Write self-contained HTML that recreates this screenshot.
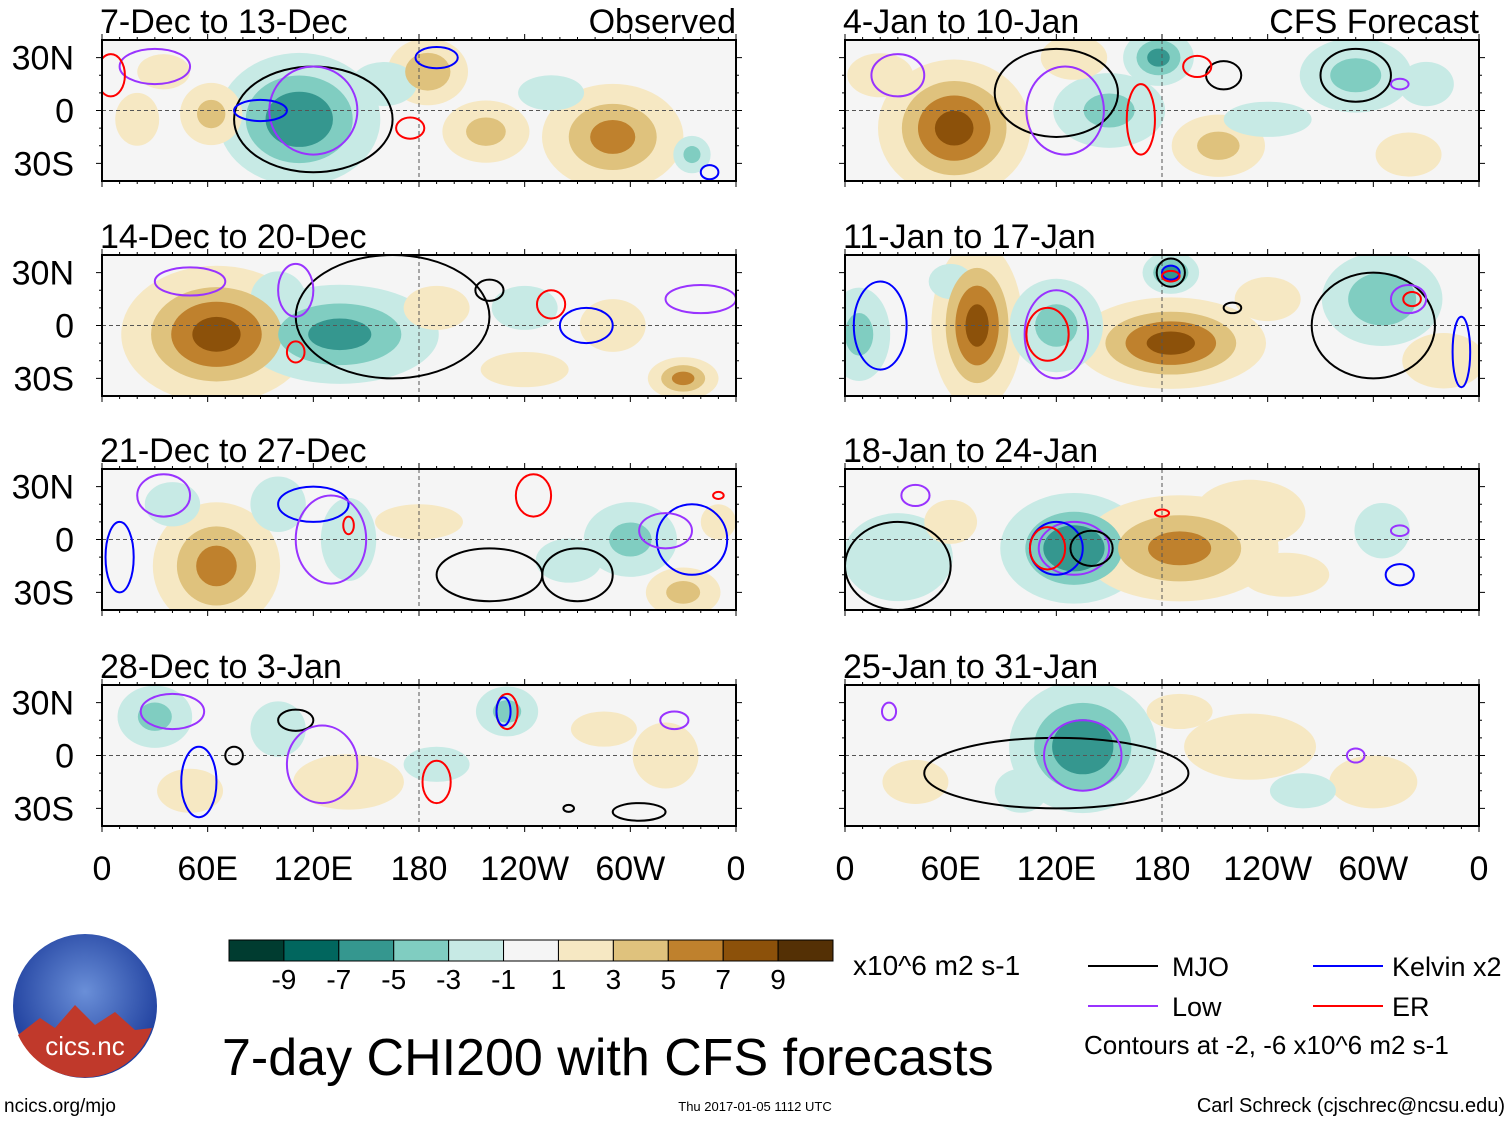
<!DOCTYPE html>
<html><head><meta charset="utf-8"><style>
body{margin:0;background:#fff;}
svg{display:block;font-family:"Liberation Sans",sans-serif;}
</style></head><body>
<svg id="c" width="1510" height="1121" xmlns="http://www.w3.org/2000/svg"></svg>
<script>
const panelTitles=["7-Dec to 13-Dec","14-Dec to 20-Dec","21-Dec to 27-Dec","28-Dec to 3-Jan","4-Jan to 10-Jan","11-Jan to 17-Jan","18-Jan to 24-Jan","25-Jan to 31-Jan"];
// blobs: [lon, lat, lonScale, latScale, amplitude]
const panelBlobs=[
 [[112,-5,22,18,-7],[62,-2,10,10,4],[185,22,12,10,5],[218,-12,14,10,4],[290,-15,20,15,6],[35,22,12,8,2],[160,15,15,10,-2],[255,10,15,8,-2],[335,-25,6,6,-4],[20,-5,10,12,2]],
 [[65,-5,25,18,8],[135,-5,28,14,-6],[330,-30,10,6,6],[190,10,15,10,2],[240,-25,20,8,2],[240,10,15,10,-2],[100,15,10,10,-3],[290,0,15,12,2]],
 [[65,-15,18,18,6],[100,20,10,10,-3],[140,0,10,15,-3],[300,0,15,12,-4],[330,-30,12,8,4],[265,-12,15,10,-2],[40,20,10,8,-3],[180,10,20,8,2],[350,10,8,8,2]],
 [[30,22,12,10,-4],[100,15,10,10,-3],[230,25,10,8,-4],[50,-20,15,10,2],[140,-15,20,10,3],[320,0,15,15,2],[190,-5,15,8,-2],[285,15,15,8,2]],
 [[62,-10,20,18,8],[178,30,10,8,-6],[150,0,18,12,-4],[290,20,18,12,-4],[212,-20,15,10,4],[130,30,12,8,3],[330,15,10,8,-3],[320,-25,15,10,2],[240,-5,20,8,-2],[20,20,15,10,2]],
 [[75,0,12,22,8],[185,-10,25,12,8],[120,0,15,15,-4],[305,15,18,14,-5],[185,30,8,6,-6],[8,-5,10,15,-4],[340,-20,15,10,3],[240,15,15,10,2],[60,25,10,8,-2]],
 [[130,-5,20,15,-7],[190,-5,28,15,6],[230,15,20,12,3],[30,-10,25,20,-2],[305,5,10,10,-3],[60,10,12,10,2],[250,-20,20,10,2]],
 [[135,5,20,18,-7],[100,-20,12,10,-2],[230,5,30,15,2],[300,-15,20,12,2],[260,-20,15,8,-2],[40,-15,15,10,2],[190,25,15,8,2]]
];
// contours: [lon, lat, lonRadius, latRadius, type]
const panelContours=[
 [[120,-5,45,30,"mjo"],[120,0,25,25,"low"],[90,0,15,6,"kelvin"],[190,30,12,6,"kelvin"],[175,-10,8,6,"er"],[30,25,20,10,"low"],[5,20,8,12,"er"],[345,-35,5,4,"kelvin"]],
 [[165,5,55,35,"mjo"],[110,20,10,15,"low"],[110,-15,5,6,"er"],[220,20,8,6,"mjo"],[255,12,8,8,"er"],[275,0,15,10,"kelvin"],[340,15,20,8,"low"],[50,25,20,8,"low"]],
 [[35,25,15,12,"low"],[120,20,20,10,"kelvin"],[130,0,20,25,"low"],[140,8,3,5,"er"],[245,25,10,12,"er"],[220,-20,30,15,"mjo"],[270,-20,20,15,"mjo"],[335,0,20,20,"kelvin"],[320,5,15,10,"low"],[350,25,3,2,"er"],[10,-10,8,20,"kelvin"]],
 [[40,25,18,10,"low"],[110,20,10,6,"mjo"],[75,0,5,5,"mjo"],[125,-5,20,22,"low"],[230,25,6,10,"er"],[228,25,4,8,"kelvin"],[190,-15,8,12,"er"],[55,-15,10,20,"kelvin"],[265,-30,3,2,"mjo"],[305,-32,15,5,"mjo"],[325,20,8,5,"low"]],
 [[120,10,35,25,"mjo"],[125,0,22,25,"low"],[168,-5,8,20,"er"],[215,20,10,8,"mjo"],[200,25,8,6,"er"],[290,20,20,15,"mjo"],[315,15,5,3,"low"],[30,20,15,12,"low"]],
 [[120,-5,18,25,"low"],[115,-5,12,15,"er"],[185,30,8,8,"mjo"],[185,30,5,4,"kelvin"],[185,28,5,3,"er"],[220,10,5,3,"mjo"],[300,0,35,30,"mjo"],[320,15,10,8,"low"],[322,15,5,4,"er"],[20,0,15,25,"kelvin"],[350,-15,5,20,"kelvin"]],
 [[130,-5,20,15,"low"],[120,-5,15,15,"kelvin"],[115,-5,10,12,"er"],[140,-5,12,10,"mjo"],[30,-15,30,25,"mjo"],[40,25,8,6,"low"],[315,5,5,3,"low"],[315,-20,8,6,"kelvin"],[180,15,4,2,"er"]],
 [[120,-10,75,20,"mjo"],[135,0,22,20,"low"],[25,25,4,5,"low"],[290,0,5,4,"low"]]
];
const colorLevels=["#003c30","#01665e","#35978f","#80cdc1","#c7eae5","#f5f5f5","#f6e8c3","#dfc27d","#bf812d","#8c510a","#543005"];
const cbLabels=["-9","-7","-5","-3","-1","1","3","5","7","9"];
const lonLabels=["0","60E","120E","180","120W","60W","0"];
const latLabels=["30N","0","30S"];
const lineColors={mjo:"#000",kelvin:"#0000ff",low:"#9933ff",er:"#ff0000"};

const NS="http://www.w3.org/2000/svg";
const svg=document.getElementById('c');
function mk(tag,attrs,parent){const e=document.createElementNS(NS,tag);for(const k in attrs)e.setAttribute(k,attrs[k]);(parent||svg).appendChild(e);return e;}
const PW=634,PH=141,SPREAD=1.5;
const colX=[102,845],rowY=[40,255,469,685];
function xScale(x0,lon){return x0+lon/360*PW;}
function yScale(y0,lat){return y0+PH/2-lat/80*PH;}
const thr=[1,3,5,7,9];
function fillFor(amp,i){return amp>0?colorLevels[6+i]:colorLevels[4-i];}

for(let p=0;p<8;p++){
 const x0=colX[Math.floor(p/4)],y0=rowY[p%4];
 const g=mk('g',{});
 
 
 const cp=mk('clipPath',{id:'cp'+p},g);
 mk('rect',{x:x0,y:y0,width:PW,height:PH},cp);
 const bg=mk('rect',{x:x0,y:y0,width:PW,height:PH,fill:"#f5f5f5"},g);
 
 
 const inner=mk('g',{'clip-path':'url(#cp'+p+')'},g);
 for(let i=0;i<5;i++){
  for(const b of panelBlobs[p]){
   const a=Math.abs(b[4]);if(a<=thr[i])continue;
   const r=SPREAD*Math.sqrt(Math.log(a/thr[i]));
   const e=mk('ellipse',{cx:xScale(x0,b[0]),cy:yScale(y0,b[1]),rx:b[2]*r*PW/360,ry:b[3]*r*PH/80,fill:fillFor(b[4],i)},inner);
   
   
  }
 }
 mk('line',{x1:x0,x2:x0+PW,y1:yScale(y0,0),y2:yScale(y0,0),stroke:"#555","stroke-dasharray":"4,3","stroke-width":1},inner);
 mk('line',{x1:xScale(x0,180),x2:xScale(x0,180),y1:y0,y2:y0+PH,stroke:"#555","stroke-dasharray":"4,3","stroke-width":1},inner);
 for(const c of panelContours[p]){
  const e=mk('ellipse',{cx:xScale(x0,c[0]),cy:yScale(y0,c[1]),rx:c[2]*PW/360,ry:c[3]*PH/80,fill:"none",stroke:lineColors[c[4]],"stroke-width":2},inner);
  
  
 }
 mk('rect',{x:x0,y:y0,width:PW,height:PH,fill:"none",stroke:"#000","stroke-width":2},g);
 for(let l=0;l<=360;l+=10){const x=xScale(x0,l),len=l%60==0?6:3;
  mk('line',{x1:x,x2:x,y1:y0,y2:y0-len,stroke:"#000"},g);mk('line',{x1:x,x2:x,y1:y0+PH,y2:y0+PH+len,stroke:"#000"},g);}
 for(let la=-30;la<=30;la+=10){const y=yScale(y0,la),len=la%30==0?6:3;
  mk('line',{x1:x0,x2:x0-len,y1:y,y2:y,stroke:"#000"},g);mk('line',{x1:x0+PW,x2:x0+PW+len,y1:y,y2:y,stroke:"#000"},g);}
 const t=mk('text',{x:x0-2,y:y0-7,'font-size':34},g);t.textContent=panelTitles[p];
 
 
 if(p==0||p==4){const s=mk('text',{x:x0+PW,y:y0-7,'font-size':34,'text-anchor':'end'},g);s.textContent=p==0?"Observed":"CFS Forecast";
  
  }
 if(p<4){[30,0,-30].forEach((la,i)=>{const tt=mk('text',{x:74,y:yScale(y0,la)+12,'font-size':34,'text-anchor':'end'},g);tt.textContent=latLabels[i];
  
  });}
 if(p%4==3){lonLabels.forEach((lb,i)=>{const tt=mk('text',{x:xScale(x0,i*60),y:880,'font-size':34,'text-anchor':'middle'},g);tt.textContent=lb;
  
  });}
}
const cb=mk('g',{});


const cbx=229,cbw=604/11;
colorLevels.forEach((c,i)=>{mk('rect',{x:cbx+i*cbw,y:940,width:cbw,height:21,fill:c,stroke:"#000","stroke-width":1},cb);});
cbLabels.forEach((l,i)=>{const t=mk('text',{x:cbx+(i+1)*cbw,y:989,'font-size':28,'text-anchor':'middle'},cb);t.textContent=l;});
function txt(x,y,s,str,name,anchor){const t=mk('text',{x:x,y:y,'font-size':s,'text-anchor':anchor||'start'});t.textContent=str;
 
 return t;}
txt(853,975,28,"x10^6 m2 s-1","colorbar-units");
[["mjo",1088,966,1172,"MJO"],["kelvin",1313,966,1392,"Kelvin x2"],["low",1088,1006,1172,"Low"],["er",1313,1006,1392,"ER"]].forEach(l=>{
 const g=mk('g',{});
 
 
 mk('line',{x1:l[1],x2:l[1]+70,y1:l[2],y2:l[2],stroke:lineColors[l[0]],"stroke-width":2},g);
 const t=mk('text',{x:l[3],y:l[2]+10,'font-size':27},g);t.textContent=l[4];});
txt(1084,1054,26,"Contours at -2, -6 x10^6 m2 s-1","contour-note");
txt(222,1075,52,"7-day CHI200 with CFS forecasts","main-title");
txt(4,1112,19,"ncics.org/mjo","site-link");
txt(755,1111,13,"Thu 2017-01-05 1112 UTC","timestamp","middle");
txt(1505,1112,20,"Carl Schreck (cjschrec@ncsu.edu)","author","end");
const lg=mk('g',{});


const df=mk('defs',{},lg);const rg=mk('radialGradient',{id:'lgr',cx:'0.5',cy:'0.4',r:'0.6'},df);
mk('stop',{offset:'0','stop-color':'#6a8fd8'},rg);mk('stop',{offset:'1','stop-color':'#1a3a9a'},rg);
mk('circle',{cx:85,cy:1006,r:72,fill:'url(#lgr)'},lg);
mk('path',{d:"M18 1035 L40 1018 L55 1028 L75 1005 L95 1025 L115 1012 L135 1030 L152 1028 A72 72 0 0 1 18 1035Z",fill:"#c0392b"},lg);
const lt=mk('text',{x:85,y:1055,'font-size':26,'text-anchor':'middle',fill:'#fff'},lg);lt.textContent="cics.nc";
</script>
</body></html>
